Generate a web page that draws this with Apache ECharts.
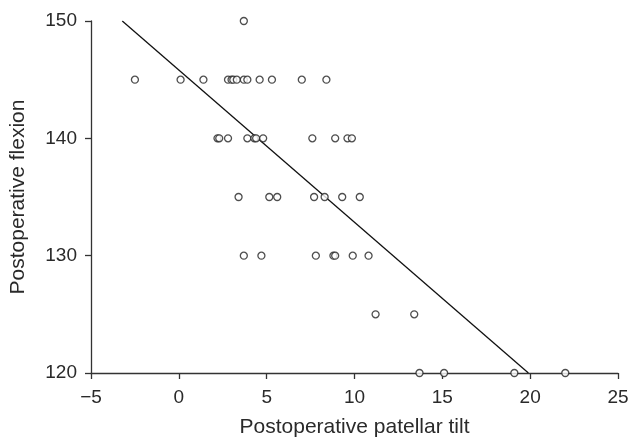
<!DOCTYPE html>
<html><head><meta charset="utf-8">
<script src="https://cdn.jsdelivr.net/npm/echarts@6/dist/echarts.min.js"></script>
<style>html,body{margin:0;padding:0;background:#fff}#c{width:632px;height:440px}</style>
</head><body><div id="c"></div>
<script>
const tiltX = [3.7,
  -2.5,0.1,1.4,2.8,3.0,3.1,3.3,3.7,3.9,4.6,5.3,7.0,8.4,
  2.2,2.3,2.8,3.9,4.3,4.4,4.8,7.6,8.9,9.6,9.85,
  3.4,5.15,5.6,7.7,8.3,9.3,10.3,
  3.7,4.7,7.8,8.8,8.9,9.9,10.8,
  11.2,13.4,
  13.7,15.1,19.1,22.0];
const flexionY = [150,
  145,145,145,145,145,145,145,145,145,145,145,145,145,
  140,140,140,140,140,140,140,140,140,140,140,
  135,135,135,135,135,135,135,
  130,130,130,130,130,130,130,
  125,125,
  120,120,120,120];
const fitX = [-3.22, 19.9];
const fitY = [150, 120];

const chart = echarts.init(document.getElementById('c'), null, {renderer:'canvas'});
const font = 'Liberation Sans, Arial, sans-serif';
const axisCol = '#333';
const txt = '#2a2a2a';
const minus = v => String(v).replace('-', '\u2212');
chart.setOption({
  animation:false,
  grid:{left:91,right:14,top:21,bottom:67,outerBoundsMode:'none',containLabel:false},
  xAxis:{type:'value',min:-5,max:25,interval:5,
    name:'Postoperative patellar tilt',nameLocation:'middle',nameGap:44,
    nameTextStyle:{fontFamily:font,fontSize:21,color:txt},
    axisLine:{show:true,onZero:false,lineStyle:{color:axisCol,width:1.3}},
    axisTick:{show:true,inside:false,length:6,lineStyle:{color:axisCol,width:1.3}},
    axisLabel:{fontFamily:font,fontSize:19,color:txt,margin:15,formatter:minus},
    splitLine:{show:false}},
  yAxis:{type:'value',min:120,max:150,interval:10,
    name:'Postoperative flexion',nameLocation:'middle',nameGap:62,
    nameTextStyle:{fontFamily:font,fontSize:21,color:txt},
    axisLine:{show:true,onZero:false,lineStyle:{color:axisCol,width:1.3}},
    axisTick:{show:true,inside:false,length:6,lineStyle:{color:axisCol,width:1.3}},
    axisLabel:{fontFamily:font,fontSize:19,color:txt,margin:14},
    splitLine:{show:false}},
  series:[
    {type:'line',data:fitX.map((x,i)=>[x,fitY[i]]),symbol:'none',
     lineStyle:{color:'#111',width:1.3},z:1},
    {type:'scatter',data:tiltX.map((x,i)=>[x,flexionY[i]]),symbol:'circle',symbolSize:7,
     itemStyle:{color:'#fff',borderColor:'#222',borderWidth:1.3},z:2}
  ]
});
</script></body></html>
